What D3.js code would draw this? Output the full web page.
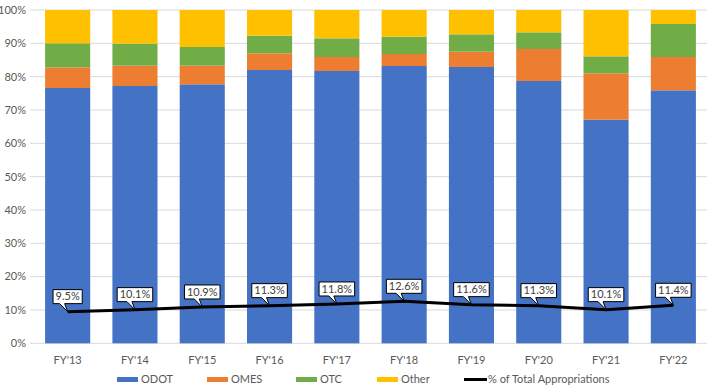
<!DOCTYPE html>
<html><head><meta charset="utf-8">
<script src="https://cdn.jsdelivr.net/npm/d3@7/dist/d3.min.js"></script>
<style>
html,body{margin:0;padding:0;background:#fff;}
svg{display:block;}
text{font-family:Lato,"Open Sans",sans-serif;}
</style></head><body>
<svg id="c" width="707" height="388"></svg>
<script>
const categories = ["FY'13","FY'14","FY'15","FY'16","FY'17","FY'18","FY'19","FY'20","FY'21","FY'22"];
const odot  = [76.6, 77.2, 77.7, 82.0, 81.7, 83.2, 82.9, 78.7, 67.1, 75.9];
const omes  = [6.2, 6.1, 5.6, 5.0, 4.2, 3.6, 4.6, 9.6, 13.9, 10.0];
const otc   = [7.2, 6.6, 5.6, 5.3, 5.6, 5.2, 5.2, 5.0, 5.1, 9.9];
const other = [10.0, 10.1, 11.1, 7.7, 8.5, 8.0, 7.3, 6.7, 13.9, 4.2];
const pctTotal = [9.5, 10.1, 10.9, 11.3, 11.8, 12.6, 11.6, 11.3, 10.1, 11.4];
const yTicks = [0,10,20,30,40,50,60,70,80,90,100];
const seriesNames = ["ODOT","OMES","OTC","Other"];
const colors = ["#4472C4","#ED7D31","#70AD47","#FFC000"];
const lineName = "% of Total Appropriations";

const svg = d3.select("#c");
const x = d3.scaleBand().domain(categories).range([34,707]).paddingInner(0.33).paddingOuter(0.165);
const y = d3.scaleLinear().domain([0,100]).range([343.3,10]);

// gridlines
svg.append("g").selectAll("line").data(yTicks).join("line")
  .attr("x1",30).attr("x2",707)
  .attr("y1",d=>y(d)).attr("y2",d=>y(d))
  .attr("stroke","#d9d9d9").attr("stroke-width",1);

// y labels
svg.append("g").selectAll("text").data(yTicks).join("text")
  .attr("x",26).attr("y",d=>y(d)).attr("dy","0.35em")
  .attr("text-anchor","end").attr("font-size",11).attr("fill","#595959")
  .text(d=>d+"%");

// stacked bars
const table = categories.map((c,i)=>({cat:c, ODOT:odot[i], OMES:omes[i], OTC:otc[i], Other:other[i]}));
const stack = d3.stack().keys(seriesNames)(table);
svg.append("g").selectAll("g").data(stack).join("g")
  .attr("fill",(d,i)=>colors[i])
  .selectAll("rect").data(d=>d).join("rect")
  .attr("x",d=>x(d.data.cat)).attr("width",x.bandwidth())
  .attr("y",d=>y(Math.min(100,d[1]))).attr("height",d=>y(d[0])-y(Math.min(100,d[1])));

// x labels
svg.append("g").selectAll("text").data(categories).join("text")
  .attr("x",d=>x(d)+x.bandwidth()/2).attr("y",360).attr("dy","0.35em")
  .attr("text-anchor","middle").attr("font-size",11).attr("fill","#595959")
  .text(d=>d);

// line
const pts = categories.map((c,i)=>[x(c)+x.bandwidth()/2, y(pctTotal[i])]);
svg.append("path").attr("d",d3.line()(pts))
  .attr("fill","none").attr("stroke","#000").attr("stroke-width",3);

// callouts
const cg = svg.append("g");
pts.forEach((p,i)=>{
  const label = pctTotal[i].toFixed(1)+"%";
  const g = cg.append("g");
  const cx = p[0], top = p[1]-22, bot = p[1]-8;
  const pathEl = g.append("path");
  const t = g.append("text").attr("x",cx).attr("y",(top+bot)/2).attr("dy","0.35em")
    .attr("text-anchor","middle").attr("font-size",11).attr("fill","#404040").text(label);
  const w = t.node().getComputedTextLength() + 5;
  const left = cx - w/2, right = cx + w/2;
  pathEl.attr("d",`M${left},${top}H${right}V${bot}H${cx-3}L${cx},${p[1]}L${cx-8},${bot}H${left}Z`)
    .attr("fill","#fff").attr("stroke","#000").attr("stroke-width",1);
});

// legend
const legItems = [
  {name:"ODOT", color:colors[0], x:117, type:"bar"},
  {name:"OMES", color:colors[1], x:207, type:"bar"},
  {name:"OTC", color:colors[2], x:296, type:"bar"},
  {name:"Other", color:colors[3], x:377, type:"bar"},
  {name:lineName, color:"#000", x:464, type:"line"}
];
const lg = svg.append("g");
legItems.forEach(d=>{
  if(d.type==="bar"){
    lg.append("rect").attr("x",d.x).attr("y",377).attr("width",21).attr("height",5).attr("fill",d.color);
  } else {
    lg.append("line").attr("x1",d.x).attr("x2",d.x+23).attr("y1",379.5).attr("y2",379.5)
      .attr("stroke",d.color).attr("stroke-width",3);
  }
  lg.append("text").attr("x",d.x+24).attr("y",379.5).attr("dy","0.35em")
    .attr("font-size",11).attr("fill","#595959").text(d.name);
});
</script>
</body></html>
